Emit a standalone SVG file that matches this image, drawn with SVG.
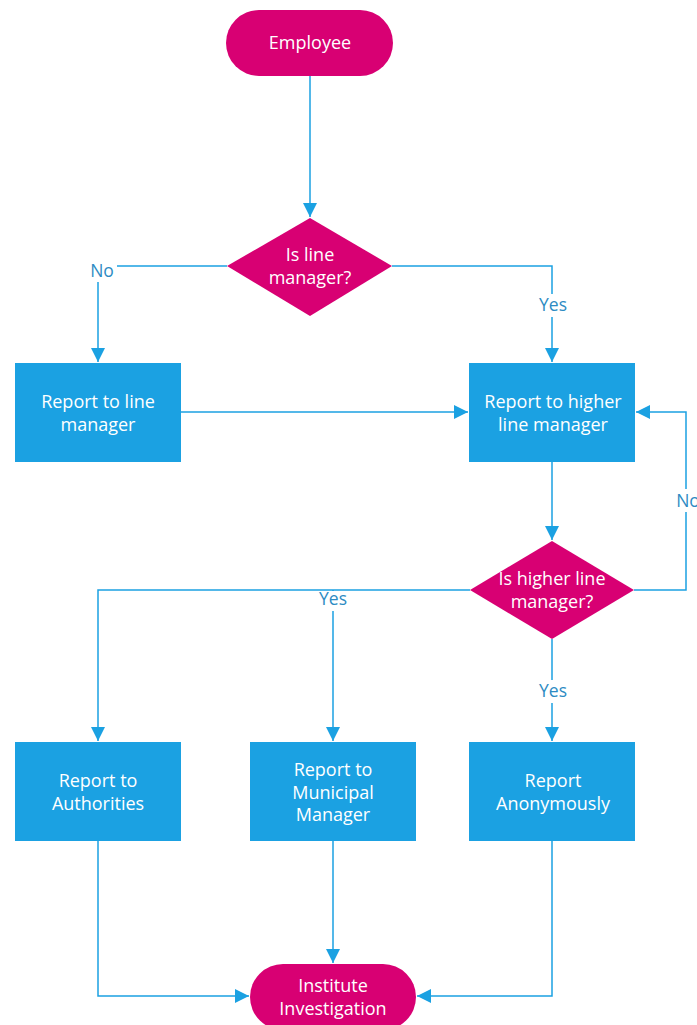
<svg xmlns="http://www.w3.org/2000/svg" width="697" height="1025" viewBox="0 0 697 1025">
<style>
.term{fill:#d80073}
.dec{fill:#d80073}
.proc{fill:#1ba1e2}
.t{font-family:"Open Sans","Noto Sans",sans-serif;font-size:18px;fill:#ffffff;text-anchor:middle}
.lbl{font-family:"Open Sans","Noto Sans",sans-serif;font-size:17.5px;fill:#2d8bc3;text-anchor:middle}
.c{fill:none;stroke:#1ba1e2;stroke-width:1.5;marker-end:url(#ah)}
</style>
<defs>
<marker id="ah" markerWidth="14" markerHeight="14" refX="14" refY="7" orient="auto" markerUnits="userSpaceOnUse">
<path d="M0,0 L14,7 L0,14 Z" fill="#1ba1e2"/>
</marker>
</defs>
<rect width="697" height="1025" fill="#ffffff"/>
<g id="connectors">
<path class="c" d="M310,76 V217"/>
<path class="c" d="M227,266 H98 V362"/>
<path class="c" d="M392,266 H552 V362"/>
<path class="c" d="M181,412 H468"/>
<path class="c" d="M552,462 V540"/>
<path class="c" d="M634,590 H686 V412 H636"/>
<path class="c" d="M470,590 H98 V741"/>
<path class="c" d="M333,590 V741"/>
<path class="c" d="M552,639 V741"/>
<path class="c" d="M98,841 V996 H249"/>
<path class="c" d="M333,841 V963"/>
<path class="c" d="M552,841 V996 H417"/>
<rect x="87" y="259" width="30" height="23" fill="#fff"/>
<rect x="535" y="294" width="36" height="23" fill="#fff"/>
<rect x="672" y="489" width="30" height="23" fill="#fff"/>
<rect x="314" y="591" width="38" height="20" fill="#fff"/>
<rect x="535" y="680" width="36" height="23" fill="#fff"/>
<text class="lbl" x="102" y="277">No</text>
<text class="lbl" x="553" y="311">Yes</text>
<text class="lbl" x="688" y="507">No</text>
<text class="lbl" x="333" y="605">Yes</text>
<text class="lbl" x="553" y="697">Yes</text>
</g>
<g id="employee">
<rect class="term" x="226" y="10" width="167" height="66" rx="33"/>
<text class="t" x="310" y="49">Employee</text>
</g>
<g id="is-line-manager">
<polygon class="dec" points="310,218 392,266 310,316 227,266"/>
<text class="t" x="310" y="261">Is line</text>
<text class="t" x="310" y="284">manager?</text>
</g>
<g id="report-line-manager">
<rect class="proc" x="15" y="363" width="166" height="99"/>
<text class="t" x="98" y="408">Report to line</text>
<text class="t" x="98" y="431">manager</text>
</g>
<g id="report-higher">
<rect class="proc" x="469" y="363" width="166" height="99"/>
<text class="t" x="553" y="408">Report to higher</text>
<text class="t" x="553" y="431">line manager</text>
</g>
<g id="is-higher">
<polygon class="dec" points="552,541 634,590 552,639 470,590"/>
<text class="t" x="552" y="585">Is higher line</text>
<text class="t" x="552" y="608">manager?</text>
</g>
<g id="authorities">
<rect class="proc" x="15" y="742" width="166" height="99"/>
<text class="t" x="98" y="787">Report to</text>
<text class="t" x="98" y="810">Authorities</text>
</g>
<g id="municipal">
<rect class="proc" x="250" y="742" width="166" height="99"/>
<text class="t" x="333" y="776">Report to</text>
<text class="t" x="333" y="799">Municipal</text>
<text class="t" x="333" y="821">Manager</text>
</g>
<g id="anonymous">
<rect class="proc" x="469" y="742" width="166" height="99"/>
<text class="t" x="553" y="787">Report</text>
<text class="t" x="553" y="810">Anonymously</text>
</g>
<g id="investigation">
<rect class="term" x="250" y="964" width="166" height="66" rx="33"/>
<text class="t" x="333" y="992">Institute</text>
<text class="t" x="333" y="1015">Investigation</text>
</g>
</svg>
